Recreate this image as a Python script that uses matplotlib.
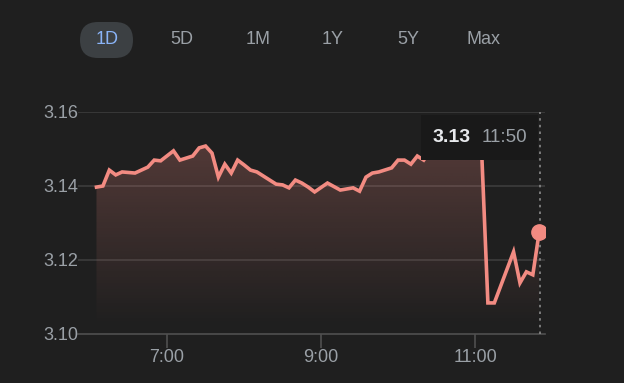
import numpy as np
import matplotlib
matplotlib.use("Agg")
import matplotlib.pyplot as plt
from matplotlib.patches import FancyBboxPatch, Rectangle, Polygon

# clock time of each point and the price
times = ["6:05", "6:10", "6:15", "6:20", "6:25", "6:35", "6:40", "6:45", "6:50", "6:55",
	"7:05", "7:10", "7:20", "7:25", "7:30", "7:35", "7:40", "7:45", "7:50", "7:55",
	"8:00", "8:05", "8:10", "8:20", "8:25", "8:30", "8:35", "8:40", "8:45", "8:50",
	"8:55", "9:05", "9:15", "9:25", "9:30", "9:35", "9:40", "9:45", "9:55", "10:00",
	"10:05", "10:10", "10:15", "10:20", "10:25", "10:30", "10:35", "10:40", "10:45", "10:50",
	"10:55", "11:00", "11:05", "11:10", "11:15", "11:30", "11:35", "11:40", "11:45", "11:50"]
prices = [3.1397, 3.1400, 3.1443, 3.1430, 3.1438, 3.1435, 3.1443, 3.1451, 3.1470, 3.1468,
	3.1495, 3.1470, 3.1481, 3.1503, 3.1508, 3.1489, 3.1424, 3.1459, 3.1435, 3.1470,
	3.1457, 3.1443, 3.1438, 3.1416, 3.1405, 3.1403, 3.1395, 3.1416, 3.1408, 3.1397,
	3.1384, 3.1408, 3.1389, 3.1395, 3.1386, 3.1424, 3.1435, 3.1438, 3.1449, 3.1470,
	3.1470, 3.1459, 3.1481, 3.1470, 3.1495, 3.1490, 3.1505, 3.1500, 3.1515, 3.1505,
	3.1500, 3.1510, 3.1505, 3.1084, 3.1084, 3.1222, 3.1138, 3.1168, 3.1160, 3.1276]

y_ticks = [3.10, 3.12, 3.14, 3.16]
x_ticks = ["7:00", "9:00", "11:00"]
ranges = ["1D", "5D", "1M", "1Y", "5Y", "Max"]

BG = "#1f1f1f"
LINE = "#f28b82"
GREY = "#9aa0a6"
FONT = "Liberation Sans"

def toMinutes(t):
	h, m = t.split(":")
	return int(h) * 60 + int(m)

x = np.array([toMinutes(t) for t in times])
y = np.array(prices)

fig = plt.figure(figsize=(6.24, 3.83), dpi=100, facecolor=BG)
ax = fig.add_axes([78 / 624, 49 / 383, 467 / 624, 222 / 383])
ax.set_facecolor(BG)
ax.set_xlim(350.6, 714.5)
ax.set_ylim(3.10, 3.16)
for s in ax.spines.values():
	s.set_visible(False)

# grid
for v in y_ticks[1:]:
	ax.axhline(v, color="#3c3c3c", lw=1.2, zorder=1)
ax.axhline(y_ticks[0], color="#505050", lw=1.2, zorder=1, clip_on=False)

ax.set_yticks(y_ticks)
ax.set_yticklabels(["%.2f" % v for v in y_ticks])
ax.set_xticks([toMinutes(t) for t in x_ticks])
ax.set_xticklabels(x_ticks)
ax.tick_params(axis="y", length=0, pad=0, labelsize=13, labelcolor=GREY)
ax.tick_params(axis="x", length=10, width=1.2, color="#505050", pad=1, labelsize=13, labelcolor=GREY)
for lbl in ax.get_xticklabels() + ax.get_yticklabels():
	lbl.set_fontfamily(FONT)

# gradient fill under the line
grad = np.zeros((256, 2, 4))
rgb = matplotlib.colors.to_rgb(LINE)
grad[:, :, 0] = rgb[0]
grad[:, :, 1] = rgb[1]
grad[:, :, 2] = rgb[2]
grad[:, :, 3] = np.linspace(0.25, 0.0, 256)[:, None]
img = ax.imshow(grad, extent=[x[0], x[-1], 3.102, 3.152], aspect="auto", origin="upper", zorder=2, interpolation="bilinear")
poly = Polygon(np.column_stack([np.r_[x[0], x, x[-1]], np.r_[3.10, y, 3.10]]), closed=True,
	facecolor="none", edgecolor="none", transform=ax.transData)
ax.add_patch(poly)
img.set_clip_path(poly)

ax.plot(x, y, color=LINE, lw=2.6, zorder=3, solid_joinstyle="miter")
ax.plot(x[-1], y[-1], "o", color=LINE, ms=11, zorder=4)
ax.plot([x[-1] + 0.5, x[-1] + 0.5], [3.10, 3.16], color="#8a8a8a", lw=1.2, ls=(0, (1.5, 2.5)), zorder=3)

# tooltip
ax.add_patch(Rectangle((x[-1] - 92, 3.147), 91, 0.0122, facecolor="#191919", edgecolor="none", zorder=5))
ax.text(x[-1] - 68.5, 3.1531, "%.2f" % y[-1], color="#e8eaed", fontsize=14, fontweight="bold",
	family=FONT, ha="center", va="center", zorder=6)
ax.text(x[-1] - 27, 3.1531, times[-1], color=GREY, fontsize=13.5, family=FONT, ha="center", va="center", zorder=6)

# range buttons
centers = [107, 182, 258, 333, 408, 483]
fig.add_artist(FancyBboxPatch((0.80, 3.25), 0.53, 0.36, boxstyle="round,pad=0,rounding_size=0.18",
	transform=fig.dpi_scale_trans, facecolor="#3c4043", edgecolor="none"))
for c, r in zip(centers, ranges):
	col = "#8ab4f8" if r == "1D" else GREY
	fig.text(c / 624, (383 - 40) / 383, r, color=col, fontsize=13, family=FONT, ha="center", va="center")

fig.savefig("out.png", dpi=100, facecolor=BG)
